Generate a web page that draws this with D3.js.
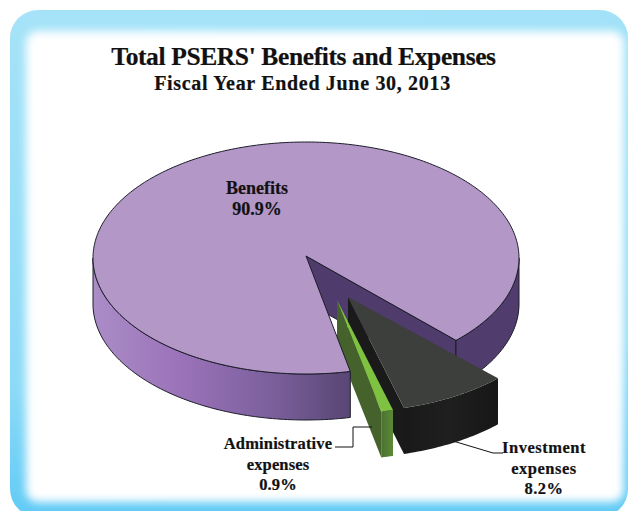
<!DOCTYPE html>
<html>
<head>
<meta charset="utf-8">
<script src="https://cdn.jsdelivr.net/npm/d3@7"></script>
<style>
  html, body { margin: 0; padding: 0; background: #fff; }
  svg { display: block; }
  text { font-family: "Liberation Serif", serif; font-weight: 700; fill: #111; stroke: #111; stroke-width: 0.2px; text-anchor: middle; }
</style>
</head>
<body>
<div id="chart"></div>
<script>
// data
const sliceNames = ['Benefits', 'Investment expenses', 'Administrative expenses'];
const sliceValues = [90.9, 8.2, 0.9];
const sliceLabels = [
    ['Benefits', '90.9%'],
    ['Investment', 'expenses', '8.2%'],
    ['Administrative', 'expenses', '0.9%']
];

const width = 630;
const height = 511;
const rx = 213;
const ry = 116;
const depth = 46;
const toRad = Math.PI / 180;

// where each slice sits on the page, same order as sliceNames
const centers = [
    { x: 306, y: 258, apexUp: 2 },
    { x: 348, y: 296, apexUp: -1 },
    { x: 337, y: 298, apexUp: -2 }
];
const labelPos = [
    { x: 257, y: 194, size: 18, spacing: 0 },
    { x: 544, y: 453, size: 16.5, spacing: 0.5 },
    { x: 278, y: 449, size: 16.5, spacing: 0.15 }
];

const svg = d3.select('#chart').append('svg')
    .attr('width', width)
    .attr('height', height);

const defs = svg.append('defs');

function gradient(id, x1, x2, stops, y1 = 0, y2 = 0) {
    const g = defs.append('linearGradient')
        .attr('id', id)
        .attr('gradientUnits', 'userSpaceOnUse')
        .attr('x1', x1).attr('x2', x2).attr('y1', y1).attr('y2', y2);
    stops.forEach(s => g.append('stop').attr('offset', s[0]).attr('stop-color', s[1]));
}

gradient('frameFill', 0, 40, [[0, '#a6e3f8'], [0.75, '#8cdaf7'], [1, '#62cbf5']], 10, 511);
gradient('leftSide', 93, 351, [[0, '#ab8cc7'], [0.35, '#9a72b8'], [0.7, '#7a5f9c'], [1, '#584673']]);
gradient('invFront', 403, 495, [[0, '#191919'], [0.5, '#1f1f1f'], [1, '#171717']]);
gradient('adminFront', 381, 393, [[0, '#4b7130'], [1, '#5b8a38']]);

defs.append('filter').attr('id', 'soft')
    .attr('x', '-10%').attr('y', '-10%').attr('width', '120%').attr('height', '120%')
    .append('feGaussianBlur').attr('stdDeviation', 4.5);

defs.append('clipPath').attr('id', 'frameClip')
    .append('rect')
    .attr('x', 10).attr('y', 10).attr('width', 618).attr('height', 507).attr('rx', 28);

// blue frame with soft white panel
const frame = svg.append('g').attr('clip-path', 'url(#frameClip)');
frame.append('rect')
    .attr('x', 10).attr('y', 10).attr('width', 618).attr('height', 507)
    .attr('fill', 'url(#frameFill)');
frame.append('rect')
    .attr('x', 26).attr('y', 31).attr('width', 598).attr('height', 471).attr('rx', 12)
    .attr('fill', '#fff')
    .attr('filter', 'url(#soft)');

// pie angles
const pie = d3.pie().sort(null)
    .startAngle(168 * toRad)
    .endAngle((168 + 360) * toRad);
const arcs = pie(sliceValues);

const xScale = d3.scaleLinear().domain([-1, 1]).range([-rx, rx]);
const yScale = d3.scaleLinear().domain([-1, 1]).range([ry, -ry]);
const line = d3.line();

function rim(i, a, drop = 0) {
    return [centers[i].x + xScale(Math.sin(a)), centers[i].y + yScale(Math.cos(a)) + drop];
}
function apex(i, drop = 0) {
    return [centers[i].x, centers[i].y - centers[i].apexUp + drop];
}
function arcPoints(i, a0, a1, drop = 0) {
    const n = Math.max(2, Math.ceil((a1 - a0) / toRad));
    return d3.range(n + 1).map(k => rim(i, a0 + (a1 - a0) * k / n, drop));
}
function sidePath(i, a0, a1) {
    return line(arcPoints(i, a0, a1).concat(arcPoints(i, a0, a1, depth).reverse())) + 'Z';
}
function wallPath(i, a) {
    return line([apex(i), rim(i, a), rim(i, a, depth), apex(i, depth)]) + 'Z';
}
function topPath(i) {
    return line([apex(i)].concat(arcPoints(i, arcs[i].startAngle, arcs[i].endAngle))) + 'Z';
}

const pieG = svg.append('g').attr('class', 'pie');
const edge = { stroke: '#1c1c2a', 'stroke-width': 1, 'stroke-linejoin': 'round' };

function addPath(d, fill, outline) {
    const p = pieG.append('path').attr('d', d).attr('fill', fill);
    if (outline) Object.entries(edge).forEach(e => p.attr(e[0], e[1]));
    return p;
}

const bStart = arcs[0].startAngle;
const bEnd = arcs[0].endAngle;
const iA = arcs[1];
const aA = arcs[2];

// benefits back parts
addPath(wallPath(0, bEnd), '#503c6c', true);
addPath(sidePath(0, 2.5 * Math.PI, bEnd), '#513d6d', true);

// investment slice
addPath(sidePath(1, iA.startAngle, iA.endAngle), 'url(#invFront)', false);
addPath(wallPath(1, iA.endAngle), '#1a1a1a', false);
addPath(topPath(1), '#3d3f3d', false);

// administrative slice
addPath(sidePath(2, aA.startAngle, aA.endAngle), 'url(#adminFront)', false);
addPath(wallPath(2, aA.endAngle), '#45612c', false);
addPath(topPath(2), '#7fc241', false);

// benefits front parts sit over the admin wall
addPath(sidePath(0, bStart, 1.5 * Math.PI), 'url(#leftSide)', true);
addPath(topPath(0), '#b397c7', true);

// leader lines
const leaders = [
    [[453, 441], [493, 453], [503, 453]],
    [[335, 447], [353, 447], [353, 427], [372, 427]]
];
svg.append('g').selectAll('path')
    .data(leaders)
    .join('path')
    .attr('d', d => line(d))
    .attr('fill', 'none')
    .attr('stroke', '#111')
    .attr('stroke-width', 1);

// titles
svg.append('text')
    .attr('x', 303.5).attr('y', 65)
    .style('font-size', '25.5px')
    .style('letter-spacing', '-0.38px')
    .text("Total PSERS' Benefits and Expenses");
svg.append('text')
    .attr('x', 302.5).attr('y', 90)
    .style('font-size', '20px')
    .style('letter-spacing', '0.68px')
    .text('Fiscal Year Ended June 30, 2013');

// slice labels
sliceLabels.forEach((lines, i) => {
    const t = svg.append('text')
        .attr('class', 'slice-label')
        .attr('data-name', sliceNames[i])
        .style('font-size', labelPos[i].size + 'px')
        .style('letter-spacing', labelPos[i].spacing + 'px');
    lines.forEach((s, k) => {
        t.append('tspan')
            .attr('x', labelPos[i].x)
            .attr('y', labelPos[i].y + k * 20.5)
            .text(s);
    });
});
</script>
</body>
</html>
